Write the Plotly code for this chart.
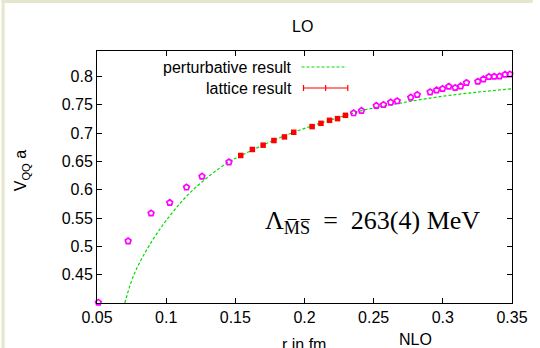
import plotly.graph_objects as go

# ---- data ----
lattice_r = [0.1539, 0.1623, 0.1701, 0.1779, 0.1855, 0.1922, 0.2055, 0.2119, 0.2181, 0.2239, 0.2296]
lattice_v = [0.6605, 0.6711, 0.6787, 0.6869, 0.6933, 0.7015, 0.7115, 0.7173, 0.7226, 0.7256, 0.7314]
lattice_err = [0.002] * len(lattice_r)

other_r = [0.051, 0.0725, 0.0891, 0.1026, 0.1147, 0.1259, 0.1454,
           0.2355, 0.2412, 0.2519, 0.2571, 0.2623, 0.2670, 0.2768, 0.2815, 0.2908,
           0.2955, 0.2998, 0.3043, 0.3089, 0.3129, 0.3171, 0.3253, 0.3293, 0.3333,
           0.3371, 0.3410, 0.3450, 0.3485]
other_v = [0.401, 0.5093, 0.5585, 0.5772, 0.6043, 0.6236, 0.6488,
           0.7354, 0.7397, 0.7485, 0.7502, 0.7543, 0.7566, 0.7631, 0.7678, 0.7724,
           0.7759, 0.7784, 0.7824, 0.7801, 0.7829, 0.7889, 0.7912, 0.7953, 0.7995,
           0.8000, 0.8005, 0.8035, 0.8040]

pert_r = [0.0701, 0.0767, 0.0874, 0.1017, 0.1195, 0.1444, 0.1539, 0.1701, 0.1922,
          0.2181, 0.2296, 0.2412, 0.2670, 0.2955, 0.3233, 0.3500]
pert_v = [0.400, 0.450, 0.500, 0.551, 0.600, 0.648, 0.660, 0.679, 0.7015,
          0.7226, 0.731, 0.7397, 0.752, 0.7636, 0.7719, 0.7784]

x_ticks = [0.05, 0.1, 0.15, 0.2, 0.25, 0.3, 0.35]
y_ticks = [0.45, 0.5, 0.55, 0.6, 0.65, 0.7, 0.75, 0.8]

title_text = "LO"
x_title = "r in fm"
y_title = "V<sub>QQ</sub> a"
legend_pert = "perturbative result"
legend_latt = "lattice result"
lambda_text = "Λ<sub>M\u0305S\u0305</sub>\u2002=\u2002263(4)\u2005MeV"
nlo_text = "NLO"

# ---- layout geometry ----
W, H = 540, 348
ML, MR, MT, MB = 97, 21, 51, 45
PW, PH = W - ML - MR, H - MT - MB


def px(x):
    return (x - ML) / PW


def py(y):
    return (H - MB - y) / PH


GREEN = "#00dd00"
RED = "#ff0000"
MAGENTA = "#ff00ff"
FONT = "Liberation Sans, Arial, sans-serif"
FS = 16

fig = go.Figure()
fig.add_trace(go.Scatter(
    x=pert_r, y=pert_v, mode="lines", line=dict(color=GREEN, width=1.2, dash="3px,2px", shape="spline"),
    showlegend=False, hoverinfo="skip"))
fig.add_trace(go.Scatter(
    x=other_r, y=other_v, mode="markers",
    marker=dict(symbol="pentagon-open", size=6, color=MAGENTA, line=dict(width=1.7, color=MAGENTA)),
    showlegend=False, cliponaxis=False))
fig.add_trace(go.Scatter(
    x=lattice_r, y=lattice_v, mode="markers",
    error_y=dict(type="data", array=lattice_err, color=RED, thickness=1.2, width=2),
    marker=dict(symbol="square", size=5.5, color=RED),
    showlegend=False))

axis_common = dict(showline=True, linecolor="black", linewidth=1, mirror="ticks",
                   ticks="inside", ticklen=5, tickcolor="black", showgrid=False, zeroline=False,
                   tickfont=dict(family=FONT, size=FS, color="black"))
fig.update_xaxes(range=[0.05, 0.35], tickvals=x_ticks, ticktext=[f"{v:g}" for v in x_ticks], **axis_common)
fig.update_yaxes(range=[0.4, 0.845], tickvals=y_ticks, ticktext=[f"{v:g}" for v in y_ticks], **axis_common)

shapes = [
    # cream border strips (left and top)
    dict(type="rect", xref="paper", yref="paper", x0=px(0), x1=px(3), y0=py(H), y1=py(0),
         fillcolor="#e6e6cc", line=dict(width=0), layer="above"),
    dict(type="rect", xref="paper", yref="paper", x0=px(0), x1=px(W), y0=py(3), y1=py(0),
         fillcolor="#e6e6cc", line=dict(width=0), layer="above"),
    # legend samples
    dict(type="line", xref="paper", yref="paper", x0=px(305), x1=px(351), y0=py(67), y1=py(67),
         line=dict(color=GREEN, width=1.2, dash="3px,2px")),
    dict(type="line", xref="paper", yref="paper", x0=px(307), x1=px(352), y0=py(88), y1=py(88),
         line=dict(color=RED, width=1.2)),
]
for xx in (307, 329.5, 352):
    shapes.append(dict(type="line", xref="paper", yref="paper", x0=px(xx), x1=px(xx),
                       y0=py(85), y1=py(91), line=dict(color=RED, width=1.2)))

annotations = [
    dict(text=title_text, x=px(306), y=py(27), xref="paper", yref="paper", showarrow=False,
         font=dict(family=FONT, size=FS, color="black"), xanchor="center", yanchor="middle"),
    dict(text=legend_pert, x=px(297), y=py(67), xref="paper", yref="paper", showarrow=False,
         font=dict(family=FONT, size=FS, color="black"), xanchor="right", yanchor="middle"),
    dict(text=legend_latt, x=px(297), y=py(88), xref="paper", yref="paper", showarrow=False,
         font=dict(family=FONT, size=FS, color="black"), xanchor="right", yanchor="middle"),
    dict(text=y_title, x=px(20), y=py(170), xref="paper", yref="paper", showarrow=False, textangle=-90,
         font=dict(family=FONT, size=FS, color="black"), xanchor="center", yanchor="middle"),
    dict(text=x_title, x=px(307), y=py(344), xref="paper", yref="paper", showarrow=False,
         font=dict(family=FONT, size=FS, color="black"), xanchor="center", yanchor="middle"),
    dict(text=nlo_text, x=px(421), y=py(339), xref="paper", yref="paper", showarrow=False,
         font=dict(family=FONT, size=FS, color="black"), xanchor="center", yanchor="middle"),
    dict(text=lambda_text, x=px(377), y=py(222), xref="paper", yref="paper", showarrow=False,
         font=dict(family="Liberation Serif, DejaVu Serif, serif", size=26, color="black"),
         xanchor="center", yanchor="middle"),
]

fig.update_layout(width=W, height=H, margin=dict(l=ML, r=MR, t=MT, b=MB),
                  paper_bgcolor="white", plot_bgcolor="white", showlegend=False,
                  shapes=shapes, annotations=annotations)

fig.write_html(
    "out.html",
    config={"displayModeBar": False},
    post_script=("document.documentElement.style.margin='0px';document.body.style.margin='0px';"
                 "document.documentElement.style.overflow='hidden';document.body.style.overflow='hidden';"),
)
